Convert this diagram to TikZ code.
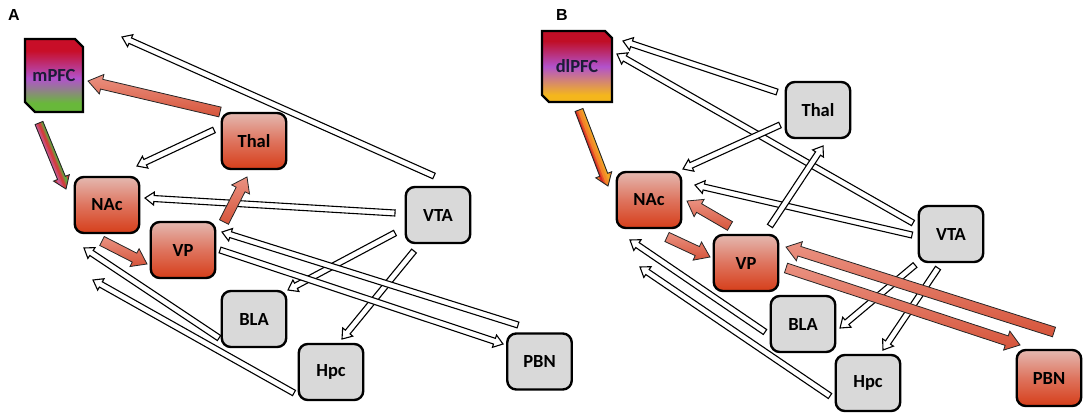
\documentclass[tikz,border=0pt]{standalone}
\usepackage{fontspec}
\setmainfont{Carlito}
\newfontfamily\labelfont{Liberation Sans}
\usetikzlibrary{calc,backgrounds}
\definecolor{rtop}{RGB}{228,184,176}
\definecolor{rmid}{RGB}{222,116,94}
\definecolor{rbot}{RGB}{214,62,26}
\definecolor{boxgrey}{RGB}{217,217,217}
\definecolor{mred}{RGB}{200,14,40}
\definecolor{mpurple}{RGB}{178,82,204}
\definecolor{mgreen}{RGB}{104,184,58}
\definecolor{dred}{RGB}{192,14,38}
\definecolor{dpurple}{RGB}{178,82,204}
\definecolor{dorange}{RGB}{226,110,70}
\definecolor{dyellow}{RGB}{244,182,28}
\definecolor{atop}{RGB}{234,146,130}
\definecolor{abot}{RGB}{214,84,58}
\definecolor{pfctext}{RGB}{28,28,56}
\definecolor{marrow}{RGB}{210,62,62}
\definecolor{marrowg}{RGB}{96,170,60}
\definecolor{marrowp}{RGB}{200,90,150}
\definecolor{darrow}{RGB}{244,132,40}
\definecolor{darrowr}{RGB}{214,40,40}
\definecolor{darrowy}{RGB}{240,170,40}
\pgfdeclareverticalshading{mpfcshade}{100bp}{color(0bp)=(mgreen); color(31bp)=(mgreen); color(48bp)=(mpurple); color(67bp)=(mred); color(100bp)=(mred)}
\pgfdeclareverticalshading{dlpfcshade}{100bp}{color(0bp)=(dyellow); color(30bp)=(dyellow); color(50bp)=(dpurple); color(68bp)=(dred); color(100bp)=(dred)}
\newcommand{\fatarrow}[6]{%
  \path ($(#3)!#6!(#2)$) coordinate (hbtmp);
  \draw[#1] ($(#2)!#4!90:(#3)$) -- ($(hbtmp)!#4!-90:(#2)$) -- ($(hbtmp)!#5!-90:(#2)$) -- (#3) -- ($(hbtmp)!#5!90:(#2)$) -- ($(hbtmp)!#4!90:(#2)$) -- ($(#2)!#4!-90:(#3)$) -- cycle;}
\newcommand{\warrow}[2]{\fatarrow{wa}{#1}{#2}{3pt}{6.5pt}{9pt}}
\newcommand{\rarrow}[2]{\fatarrow{ra}{#1}{#2}{5pt}{10pt}{14pt}}
% arrow with colour bands across it: from, to, colour on one side, centre colour, colour on other side
\newcommand{\gradarrow}[5]{%
  \path ($(#2)!12pt!(#1)$) coordinate (hbtmp);
  \begin{scope}
  \clip ($(#1)!4.2pt!90:(#2)$) -- ($(hbtmp)!4.2pt!-90:(#1)$) -- ($(hbtmp)!8.5pt!-90:(#1)$) -- (#2) -- ($(hbtmp)!8.5pt!90:(#1)$) -- ($(hbtmp)!4.2pt!90:(#1)$) -- ($(#1)!4.2pt!-90:(#2)$) -- cycle;
  \draw[line width=24pt, #4] (#1) -- (#2);
  \draw[line width=1.6pt, #3!50!#4] ($(#1)!2.1pt!-90:(#2)$) -- ($(#2)!2.1pt!90:(#1)$);
  \draw[line width=2.4pt, #3] ($(#1)!4pt!-90:(#2)$) -- ($(#2)!4pt!90:(#1)$);
  \draw[line width=1.6pt, #5!50!#4] ($(#1)!2.1pt!90:(#2)$) -- ($(#2)!2.1pt!-90:(#1)$);
  \draw[line width=2.4pt, #5] ($(#1)!4pt!90:(#2)$) -- ($(#2)!4pt!-90:(#1)$);
  \end{scope}
  \draw[draw=black!85, line width=0.9pt, line join=miter] ($(#1)!4.2pt!90:(#2)$) -- ($(hbtmp)!4.2pt!-90:(#1)$) -- ($(hbtmp)!8.5pt!-90:(#1)$) -- (#2) -- ($(hbtmp)!8.5pt!90:(#1)$) -- ($(hbtmp)!4.2pt!90:(#1)$) -- ($(#1)!4.2pt!-90:(#2)$) -- cycle;}
\begin{document}
\begin{tikzpicture}[x=1pt,y=-1pt,
  box/.style={draw=black, line width=2.4pt, rounded corners=9pt, minimum width=64.5pt, minimum height=56pt, inner sep=0pt, font=\fontsize{18.5}{22}\selectfont\bfseries},
  redbox/.style={box, top color=rtop, bottom color=rbot, middle color=rmid},
  greybox/.style={box, fill=boxgrey},
  pfc/.style={inner sep=0pt, font=\fontsize{18.5}{22}\selectfont\bfseries, text=pfctext},
  pfcborder/.style={draw=black, line width=2.4pt, line join=miter},
  wa/.style={draw=black, line width=1.1pt, fill=white, line join=miter},
  ra/.style={draw=black!85, line width=0.8pt, top color=atop, bottom color=abot, line join=miter},
  lab/.style={font=\labelfont\bfseries\fontsize{16}{16}\selectfont}
]
\useasboundingbox (0,0) rectangle (1084,415);
% ---------- panel A ----------
\node[lab] (labA) at (14,15) {A};
\node[pfc, minimum width=57.6pt, minimum height=72.6pt] (mPFC) at (54,75.5) {mPFC};
\begin{scope}[on background layer]
\draw[pfcborder, shading=mpfcshade] (mPFC.north west) -- ($(mPFC.north east)+(-8,0)$) -- ($(mPFC.north east)+(0,8)$) -- (mPFC.south east) -- ($(mPFC.south west)+(10,0)$) -- ($(mPFC.south west)+(0,-10)$) -- cycle;
\end{scope}
\node[redbox] (ThalA) at (254,141) {Thal};
\node[redbox] (NAcA) at (107,205) {NAc};
\node[redbox] (VPA) at (183,250) {VP};
\node[greybox] (BLAA) at (254,319) {BLA};
\node[greybox] (HpcA) at (331,372) {Hpc};
\node[greybox] (VTAA) at (438,215) {VTA};
\node[greybox] (PBNA) at (539.5,361.5) {PBN};
% arrow end points
\coordinate (aMNs) at (39,123);  \coordinate (aMNe) at (66,189);
\coordinate (aTMs) at (220,112); \coordinate (aTMe) at (88,81);
\coordinate (aVMs) at (434,176); \coordinate (aVMe) at (122,37);
\coordinate (aTNs) at (214,130); \coordinate (aTNe) at (137,166);
\coordinate (aVNs) at (395,213); \coordinate (aVNe) at (145,198);
\coordinate (aVTs) at (224,222); \coordinate (aVTe) at (247,177);
\coordinate (aNVs) at (102,241); \coordinate (aNVe) at (147,264);
\coordinate (aVBs) at (395,233); \coordinate (aVBe) at (288,290);
\coordinate (aVHs) at (414,251); \coordinate (aVHe) at (342,339);
\coordinate (aPVs) at (518,325); \coordinate (aPVe) at (222,232);
\coordinate (aVPs) at (220,250); \coordinate (aVPe) at (503,344);
\coordinate (aBNs) at (219,338); \coordinate (aBNe) at (84,248);
\coordinate (aHNs) at (294,393); \coordinate (aHNe) at (93,280);
\warrow{aVMs}{aVMe}
\warrow{aTNs}{aTNe}
\warrow{aVNs}{aVNe}
\warrow{aVBs}{aVBe}
\warrow{aVHs}{aVHe}
\warrow{aPVs}{aPVe}
\warrow{aVPs}{aVPe}
\warrow{aBNs}{aBNe}
\warrow{aHNs}{aHNe}
\rarrow{aTMs}{aTMe}
\rarrow{aVTs}{aVTe}
\rarrow{aNVs}{aNVe}
\gradarrow{aMNs}{aMNe}{marrowp}{marrow}{marrowg}
% ---------- panel B ----------
\node[lab] (labB) at (562,15) {B};
\node[pfc, minimum width=69.6pt, minimum height=70.6pt] (dlPFC) at (577,66.5) {dlPFC};
\begin{scope}[on background layer]
\draw[pfcborder, shading=dlpfcshade] (dlPFC.north west) -- ($(dlPFC.north east)+(-7,0)$) -- ($(dlPFC.north east)+(0,7)$) -- (dlPFC.south east) -- ($(dlPFC.south west)+(7,0)$) -- ($(dlPFC.south west)+(0,-7)$) -- cycle;
\end{scope}
\node[greybox] (ThalB) at (818,110) {Thal};
\node[redbox] (NAcB) at (649,200) {NAc};
\node[redbox] (VPB) at (746,263) {VP};
\node[greybox] (BLAB) at (803,324) {BLA};
\node[greybox] (HpcB) at (868,383) {Hpc};
\node[greybox] (VTAB) at (951,234) {VTA};
\node[redbox] (PBNB) at (1049,378) {PBN};
\coordinate (bDNs) at (579,110); \coordinate (bDNe) at (608,186);
\coordinate (bTDs) at (777,92);  \coordinate (bTDe) at (623,41);
\coordinate (bVDs) at (913,223); \coordinate (bVDe) at (617,54);
\coordinate (bTNs) at (780,125); \coordinate (bTNe) at (683,169);
\coordinate (bVTs) at (770,226); \coordinate (bVTe) at (823,146);
\coordinate (bVNs) at (912,235); \coordinate (bVNe) at (695,185);
\coordinate (bPNs) at (730,226); \coordinate (bPNe) at (687,201);
\coordinate (bNVs) at (667,237); \coordinate (bNVe) at (710,257);
\coordinate (bPVs) at (1054,332); \coordinate (bPVe) at (786,247);
\coordinate (bVPs) at (786,268); \coordinate (bVPe) at (1020,345);
\coordinate (bVBs) at (915,265); \coordinate (bVBe) at (840,328);
\coordinate (bVHs) at (938,268); \coordinate (bVHe) at (883,350);
\coordinate (bBNs) at (765,332); \coordinate (bBNe) at (630,240);
\coordinate (bHNs) at (830,396); \coordinate (bHNe) at (640,267);
\warrow{bTDs}{bTDe}
\warrow{bVDs}{bVDe}
\warrow{bTNs}{bTNe}
\warrow{bVNs}{bVNe}
\warrow{bVTs}{bVTe}
\warrow{bVBs}{bVBe}
\warrow{bVHs}{bVHe}
\warrow{bBNs}{bBNe}
\warrow{bHNs}{bHNe}
\rarrow{bPNs}{bPNe}
\rarrow{bNVs}{bNVe}
\rarrow{bPVs}{bPVe}
\rarrow{bVPs}{bVPe}
\gradarrow{bDNs}{bDNe}{darrowr}{darrow}{darrowy}
\end{tikzpicture}
\end{document}
